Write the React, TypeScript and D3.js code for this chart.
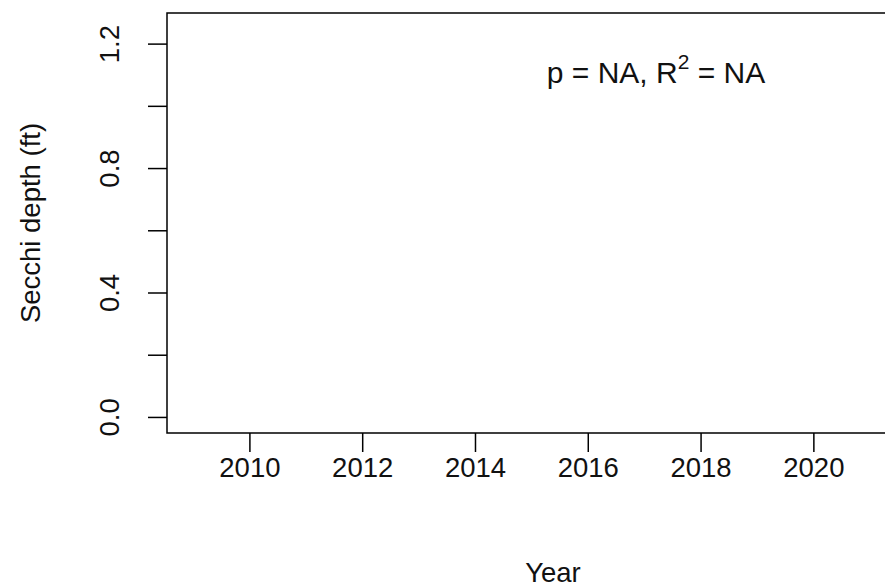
import React from "react";
import * as d3 from "d3";

const xTicks = [2010, 2012, 2014, 2016, 2018, 2020];
const yTicks = [0, 0.2, 0.4, 0.6, 0.8, 1.0, 1.2];
const yTickLabels = ["0.0", "", "0.4", "", "0.8", "", "1.2"];
const xDomain = [2008.53, 2021.35];
const yDomain = [-0.05, 1.3];
const xTitle = "Year";
const yTitle = "Secchi depth (ft)";
const annotation = { p: "NA", r2: "NA" };

export default function App() {
  const W = 885, H = 587;
  const left = 167, top = 13, bottom = 433, right = 890;
  const x = d3.scaleLinear().domain(xDomain).range([left, right]);
  const y = d3.scaleLinear().domain(yDomain).range([bottom, top]);
  const font = "'Liberation Sans', Arial, sans-serif";
  const fs = 27.5;
  const afs = 30;
  const tick = 19;
  return (
    <svg width={W} height={H} style={{ position: "absolute", left: 0, top: 0, background: "#fff" }} fontFamily={font}>
      <rect x={0} y={0} width={W} height={H} fill="#fff" />
      <path d={`M${right},${top}H${left}V${bottom}H${right}`} fill="none" stroke="#000" strokeWidth={1.5} />
      {xTicks.map((t) => (
        <g key={t}>
          <line x1={x(t)} x2={x(t)} y1={bottom} y2={bottom + tick} stroke="#000" strokeWidth={1.5} />
          <text x={x(t)} y={467} textAnchor="middle" dominantBaseline="central" fontSize={fs} fill="#111">{t}</text>
        </g>
      ))}
      {yTicks.map((t, i) => (
        <g key={t}>
          <line x1={left - tick} x2={left} y1={y(t)} y2={y(t)} stroke="#000" strokeWidth={1.5} />
          {yTickLabels[i] && (
            <text transform={`translate(109,${y(t)}) rotate(-90)`} textAnchor="middle" dominantBaseline="central" fontSize={fs} fill="#111">{yTickLabels[i]}</text>
          )}
        </g>
      ))}
      <text x={553} y={572} textAnchor="middle" dominantBaseline="central" fontSize={fs} fill="#111">{xTitle}</text>
      <text transform={`translate(30,${(top + bottom) / 2}) rotate(-90)`} textAnchor="middle" dominantBaseline="central" fontSize={fs} fill="#111">{yTitle}</text>
      <text x={656} y={83} textAnchor="middle" fontSize={afs} fill="#111">
        {`p = ${annotation.p}, R`}
        <tspan dy={-14} fontSize={afs * 0.7}>2</tspan>
        <tspan dy={14}>{` = ${annotation.r2}`}</tspan>
      </text>
    </svg>
  );
}
